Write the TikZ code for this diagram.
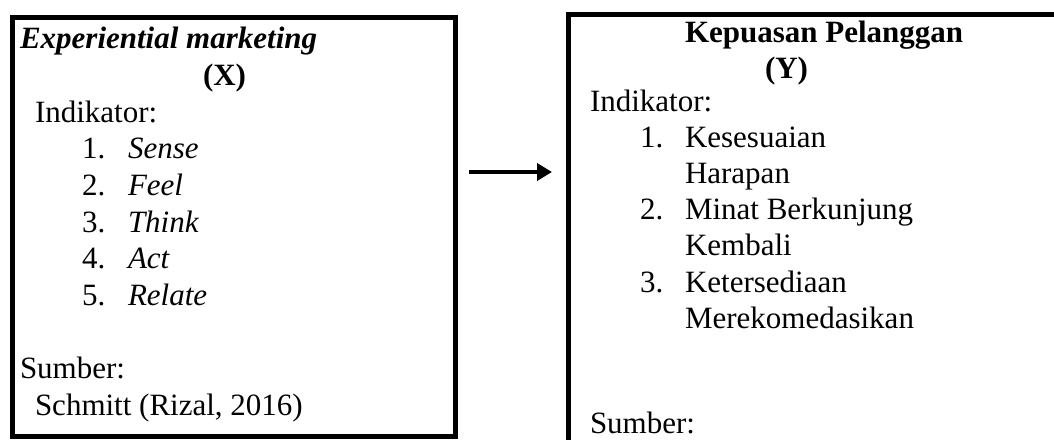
\documentclass[tikz,border=0pt]{standalone}
\usepackage{fontspec}
\setmainfont{Liberation Serif}
\usetikzlibrary{arrows.meta}
\newcommand\myfs{\fontsize{31}{37}\selectfont}
\begin{document}
\begin{tikzpicture}[x=1pt,y=-1pt,
  txt/.style={anchor=base west, inner sep=0pt, outer sep=0pt, font=\myfs},
  btxt/.style={txt, font=\myfs\bfseries},
  itxt/.style={txt, font=\myfs\itshape},
  box/.style={draw, line width=5pt, inner sep=0pt, outer sep=0pt, anchor=north west},
  link/.style={line width=4pt, -{Triangle[length=15pt,width=17pt]}}]
\useasboundingbox (0,0) rectangle (1054,439);
\clip (0,0) rectangle (1054,439);
% boxes
\node[box, minimum width=443pt, minimum height=419pt] (xbox) at (12,17) {};
\node[box, minimum width=600pt, minimum height=500pt] (ybox) at (568,14.5) {};
% left content
\node[txt, font=\myfs\bfseries\itshape] (xtitle) at (20,48.6) {Experiential marketing};
\node[btxt] (xvar) at (203,85.3) {(X)};
\node[txt] (xind) at (35,122) {Indikator:};
\node[txt] (xn1) at (82,158.7) {1.};
\node[itxt] (xi1) at (128,158.7) {Sense};
\node[txt] (xn2) at (82,195.4) {2.};
\node[itxt] (xi2) at (128,195.4) {Feel};
\node[txt] (xn3) at (82,232.1) {3.};
\node[itxt] (xi3) at (128,232.1) {Think};
\node[txt] (xn4) at (82,268.8) {4.};
\node[itxt] (xi4) at (128,268.8) {Act};
\node[txt] (xn5) at (82,305.5) {5.};
\node[itxt] (xi5) at (128,305.5) {Relate};
\node[txt] (xsum) at (20,378.9) {Sumber:};
\node[txt] (xsrc) at (35,415.6) {Schmitt (Rizal, 2016)};
% right content
\node[btxt] (ytitle) at (685,42) {Kepuasan Pelanggan};
\node[btxt] (yvar) at (765,78) {(Y)};
\node[txt] (yind) at (590,111) {Indikator:};
\node[txt] (yn1) at (640,147.2) {1.};
\node[txt] (yi1) at (685,147.2) {Kesesuaian};
\node[txt] (yi1b) at (685,183.4) {Harapan};
\node[txt] (yn2) at (640,219.6) {2.};
\node[txt] (yi2) at (685,219.6) {Minat Berkunjung};
\node[txt] (yi2b) at (685,255.8) {Kembali};
\node[txt] (yn3) at (640,292) {3.};
\node[txt] (yi3) at (685,292) {Ketersediaan};
\node[txt] (yi3b) at (685,328.2) {Merekomedasikan};
\node[txt] (ysum) at (590,433.5) {Sumber:};
% arrow
\coordinate (a1) at (469,172);
\coordinate (a2) at (552,172);
\draw[link] (a1) -- (a2);
\end{tikzpicture}
\end{document}
